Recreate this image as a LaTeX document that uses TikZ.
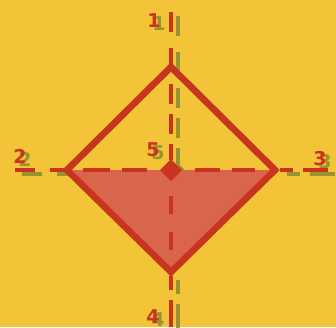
\documentclass[tikz,border=0pt]{standalone}
\usepackage{fontspec}
\setmainfont{Liberation Sans}
\newfontfamily\lblfont{DejaVu Sans}
\definecolor{bg}{HTML}{F3C437}
\definecolor{rd}{HTML}{C8341E}
\definecolor{fl}{HTML}{D9654C}
\definecolor{sh}{HTML}{8A8A30}
\begin{document}
\begin{tikzpicture}[x=1pt,y=-1pt,
  lbl/.style={font=\lblfont\bfseries\fontsize{19}{19}\selectfont, inner sep=0pt},
  edgeline/.style={line width=6.5pt, line join=miter},
  dseg/.style={line width=4.5pt}]
\fill[bg] (0,0) rectangle (336,327);
\useasboundingbox (0,0) rectangle (336,327);
\coordinate (T) at (171,67);
\coordinate (L) at (67,170);
\coordinate (R) at (275,170);
\coordinate (B) at (171,272);
\coordinate (C) at (171,170);
% shadows
\begin{scope}[shift={(7,4)}, sh, opacity=0.85]
  \draw[edgeline] (T) -- (R) -- (B) -- (L) -- cycle;
  \foreach \a/\b in {12/32,48/68,84/104,114/134,144/160,196/214,232/250,276/290,300/327}
    \draw[dseg] (171,\a) -- (171,\b);
  \foreach \a/\b in {15/35,50/64,83/110,122/147,195/220,232/255,280/293,303/328}
    \draw[dseg] (\a,170) -- (\b,170);
  \fill (171,159) -- (182,170) -- (171,181) -- (160,170) -- cycle;
\end{scope}
\begin{scope}[shift={(5,3)}, opacity=0.85]
  \node[lbl, text=sh] at (154,21) {1};
  \node[lbl, text=sh] at (20,156) {2};
  \node[lbl, text=sh] at (320,159) {3};
  \node[lbl, text=sh] at (153,317) {4};
  \node[lbl, text=sh] at (153,150) {5};
\end{scope}
% lower filled half
\fill[fl] (L) -- (R) -- (B) -- cycle;
% diamond
\draw[rd, edgeline] (T) -- (R) -- (B) -- (L) -- cycle;
% dashed axes
\foreach \a/\b in {12/32,48/68,84/104,114/134,144/160,196/214,232/250,276/290,300/327}
  \draw[rd, dseg] (171,\a) -- (171,\b);
\foreach \a/\b in {15/35,50/64,83/110,122/147,195/220,232/255,280/293,303/328}
  \draw[rd, dseg] (\a,170) -- (\b,170);
% centre marker
\fill[rd] (171,159) -- (182,170) -- (171,181) -- (160,170) -- cycle;
% labels
\node[lbl, text=rd] (l1) at (154,21) {1};
\node[lbl, text=rd] (l2) at (20,156) {2};
\node[lbl, text=rd] (l3) at (320,159) {3};
\node[lbl, text=rd] (l4) at (153,317) {4};
\node[lbl, text=rd] (l5) at (153,150) {5};
\end{tikzpicture}
\end{document}
